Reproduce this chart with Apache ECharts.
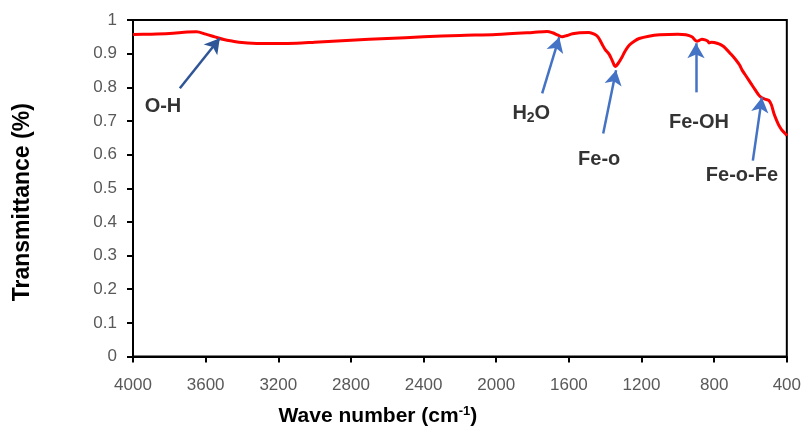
<!DOCTYPE html>
<html>
<head>
<meta charset="utf-8">
<script src="https://cdn.jsdelivr.net/npm/echarts@6/dist/echarts.min.js"></script>
<style>html,body{margin:0;padding:0;background:#fff}#c{width:804px;height:432px}</style>
</head>
<body>
<div id="c"></div>
<script>
// Wave numbers (cm-1) and transmittance
const waveNumbers = [4000,3900,3800,3700,3650,3600,3550,3500,3450,3400,3300,3200,3100,3000,2800,2600,2400,2200,2000,1800,1720,1690,1660,1637,1610,1580,1540,1490,1460,1440,1417,1400,1378,1360,1345,1330,1307,1290,1268,1240,1213,1160,1100,1000,956,923,895,880,867,850,835,829,815,800,774,750,736,710,681,660,646,620,597,575,553,535,515,499,485,471,455,444,430,417,405,400];
const transmittance = [0.957,0.958,0.960,0.964,0.965,0.958,0.950,0.942,0.937,0.933,0.930,0.930,0.931,0.934,0.940,0.945,0.950,0.954,0.957,0.963,0.966,0.962,0.955,0.950,0.954,0.959,0.962,0.963,0.958,0.950,0.928,0.912,0.898,0.878,0.862,0.870,0.890,0.908,0.925,0.937,0.945,0.952,0.956,0.958,0.956,0.950,0.937,0.940,0.943,0.941,0.937,0.932,0.934,0.933,0.929,0.922,0.915,0.900,0.882,0.866,0.851,0.830,0.811,0.793,0.776,0.768,0.764,0.761,0.748,0.722,0.700,0.687,0.675,0.667,0.660,0.656];
const xTicks = [4000,3600,3200,2800,2400,2000,1600,1200,800,400];
const yTicks = [0,0.1,0.2,0.3,0.4,0.5,0.6,0.7,0.8,0.9,1];

// Annotations: label text, label anchor [wn, T], arrow tail and tip [wn, T]
const annotLabels = ['O-H','H2O','Fe-o','Fe-OH','Fe-o-Fe'];
const annotLabelPos = [[3835,0.744],[1807,0.722],[1433,0.586],[884,0.696],[647,0.537]];
const arrowTail = [[3742,0.797],[1747,0.782],[1411,0.663],[900,0.785],[587,0.582]];
const arrowTip  = [[3522,0.946],[1653,0.949],[1340,0.851],[900,0.931],[537,0.770]];
const arrowColors = ['#2F5597','#4472C4','#4472C4','#4472C4','#4472C4'];

const curve = waveNumbers.map((w,i)=>[w, transmittance[i]]);
const chart = echarts.init(document.getElementById('c'), null, {renderer:'canvas'});
const FF = '"Liberation Sans", Arial, sans-serif';
const tickFont = {color:'#595959', fontSize:17, fontFamily:FF};
chart.setOption({
  animation:false,
  grid:{left:133, right:16, top:20, bottom:75, show:true, borderColor:'#000', borderWidth:2, containLabel:false},
  xAxis:{
    type:'value', inverse:true, min:400, max:4000, interval:400,
    name:'Wave number (cm{sup|-1})', nameLocation:'middle', nameGap:48,
    nameTextStyle:{color:'#000', fontSize:21, fontWeight:'bold', fontFamily:FF, padding:[0,164,0,0],
      rich:{sup:{fontSize:13, fontWeight:'bold', color:'#000', padding:[0,0,11,0], fontFamily:FF}}},
    axisLine:{show:true, onZero:false, lineStyle:{color:'#000', width:2}},
    axisTick:{show:true, inside:false, length:6, lineStyle:{color:'#000', width:2}},
    axisLabel:Object.assign({margin:20, formatter:v=>xTicks.includes(v)?String(v):''}, tickFont),
    splitLine:{show:false}
  },
  yAxis:{
    type:'value', min:0, max:1, interval:0.1,
    name:'Transmittance (%)', nameLocation:'middle', nameGap:99,
    nameTextStyle:{color:'#000', fontSize:23, fontWeight:'bold', fontFamily:FF, padding:[0,28,0,0]},
    axisLine:{show:true, onZero:false, lineStyle:{color:'#000', width:2}},
    axisTick:{show:true, inside:false, length:6, lineStyle:{color:'#000', width:2}},
    axisLabel:Object.assign({margin:16, formatter:v=>{const t=yTicks.find(k=>Math.abs(k-v)<1e-9);return t===undefined?'':String(Math.round(t*10)/10);}}, tickFont),
    splitLine:{show:false}
  },
  series:[
    {
      type:'line', data:curve, showSymbol:false, symbol:'none', smooth:0.3,
      lineStyle:{color:'#FF0000', width:3}, z:3,
      markLine:{
        silent:true, symbol:['none','arrow'], symbolSize:[13,15], label:{show:false},
        animation:false,
        data: arrowTail.map((t,i)=>[
          {coord:t, lineStyle:{color:arrowColors[i], width:2.5, type:'solid'}, itemStyle:{color:arrowColors[i]}},
          {coord:arrowTip[i]}
        ])
      }
    },
    {
      type:'scatter', symbolSize:1, itemStyle:{color:'rgba(0,0,0,0)'}, silent:true, z:5,
      data: annotLabels.map((n,i)=>({name:n, value:annotLabelPos[i]})),
      label:{show:true, position:'inside', color:'#000', fontSize:20, fontWeight:'bold', fontFamily:FF,
        formatter:p=>p.name==='H2O'?'{a|H}{s|2}{a|O}':p.name,
        rich:{a:{fontSize:20, fontWeight:'bold', color:'#000', fontFamily:FF},
              s:{fontSize:14, fontWeight:'bold', color:'#000', padding:[10,0,0,0], fontFamily:FF}}}
    }
  ]
});
</script>
</body>
</html>
